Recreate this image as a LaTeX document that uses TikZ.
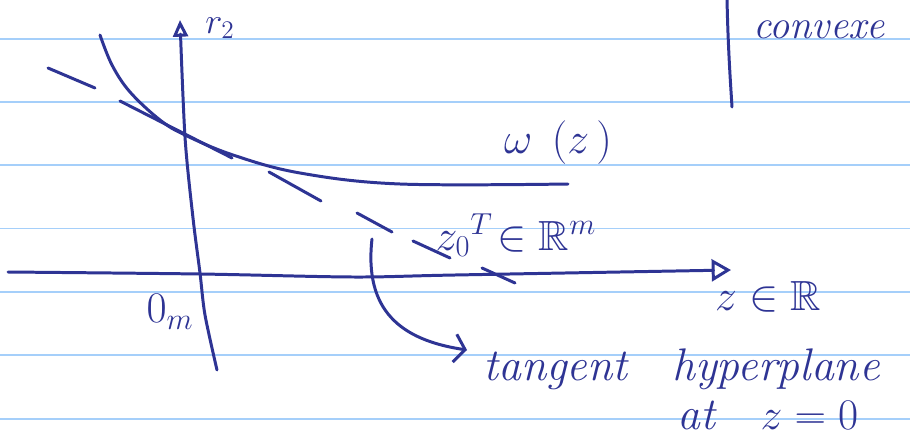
\documentclass[tikz,border=0pt]{standalone}
\usepackage{amssymb}
\usetikzlibrary{arrows.meta}
\definecolor{ink}{RGB}{46,52,148}
\definecolor{paperline}{RGB}{165,207,250}
\tikzset{
	pen/.style={draw=ink, line width=1.7pt, line cap=round, line join=round},
	hand/.style={text=ink, inner sep=0pt, font=\fontsize{#1}{#1}\selectfont\itshape},
}
\begin{document}
\begin{tikzpicture}[x=0.02cm,y=-0.02cm]
	\useasboundingbox (0,0) rectangle (910,436);
	\fill[white] (0,0) rectangle (910,436);
	\foreach \y in {39,102,165,228.5,292,355,419}
		\draw[paperline, line width=1.1pt] (0,\y) -- (910,\y);
	
	\draw[pen, -{Triangle[open, length=9.5pt, width=8.5pt]}] plot[smooth] coordinates {(217,370) (205,315) (200,273) (193,218) (185,137) (180,20)};
	\draw[pen, -{Triangle[open, length=11pt, width=12.5pt]}] plot[smooth] coordinates {(8,272) (200,274) (353,277) (455,275) (731,270)};
	\draw[pen] plot[smooth, tension=0.6] coordinates {(100,35) (112,65) (130,92) (160,120) (185,135) (233,155) (300,173) (400,184) (568,184)};
	\foreach \xa/\ya/\xb/\yb in {48/68/95/88, 120/101/232/158, 269/172/321/201, 357/213/392/232, 413/241/450/258, 482/268/515/283}
		\draw[pen] (\xa,\ya) -- (\xb,\yb);
	\draw[pen] (727,-2) .. controls (728,50) and (731,90) .. (732,107);
	
	\node[hand=21] (ylab) at (220,28) {$r_2$};
	\node[hand=24] (wlab) at (558,143) {$\omega\;\,(z\,)$};
	\node[hand=24] (z0lab) at (516,235) {$z_0{}^{T}\!\in\mathbb{R}^m$};
	\node[hand=24] (xlab) at (768,297) {$z\in\mathbb{R}$};
	\node[hand=24] (orig) at (170,312) {$0_m$};
	\node[hand=23, anchor=base west] (conv) at (753,38) {convexe};
	\node[hand=26, anchor=base west] (tangent) at (483,380) {tangent};
	\node[hand=26, anchor=base west] (hyper) at (672,380) {hyperplane};
	\node[hand=26, anchor=base west] (atz) at (677,429) {at\quad $z=0$};
	
	\coordinate (foot) at (372,239);
	\coordinate (tip) at (467,350);
	\draw[pen, -{Straight Barb[length=6pt, width=16pt]}] (foot) .. controls (364,310) and (400,340) .. (tip);
\end{tikzpicture}
\end{document}
